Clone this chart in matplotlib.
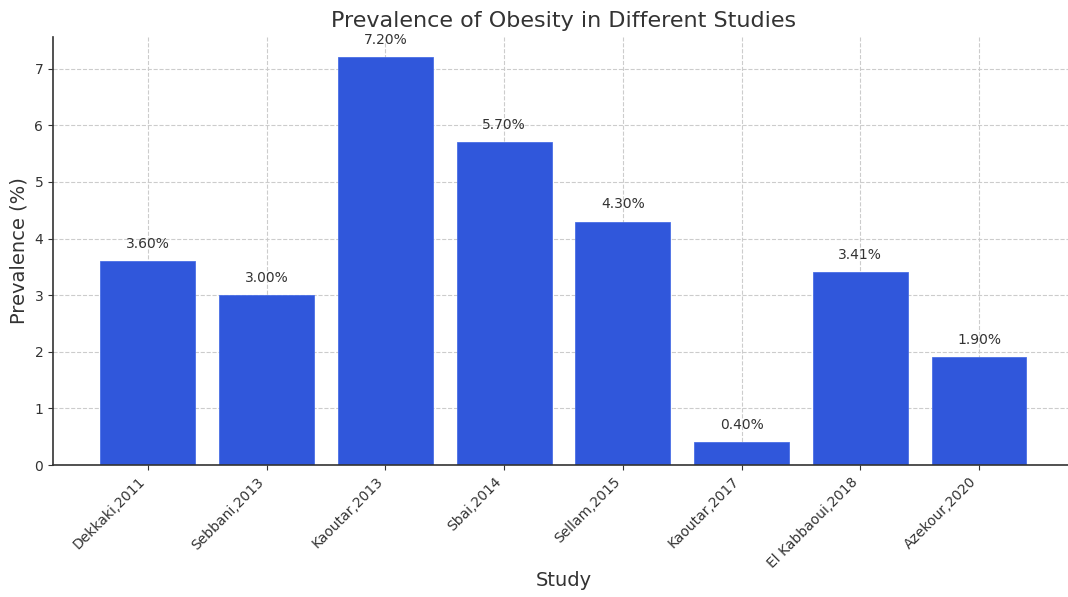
import matplotlib
matplotlib.use("Agg")
import matplotlib.pyplot as plt

studies = ["Dekkaki,2011", "Sebbani,2013", "Kaoutar,2013", "Sbai,2014",
           "Sellam,2015", "Kaoutar,2017", "El Kabbaoui,2018", "Azekour,2020"]
prevalence = [3.60, 3.00, 7.20, 5.70, 4.30, 0.40, 3.41, 1.90]

text_color = "#333333"
plt.rcParams["font.family"] = ["DejaVu Sans"]
plt.rcParams["text.color"] = text_color
plt.rcParams["axes.labelcolor"] = text_color
plt.rcParams["xtick.color"] = text_color
plt.rcParams["ytick.color"] = text_color

fig = plt.figure(figsize=(10.68, 5.97), dpi=100)
ax = fig.add_axes([0.0496, 0.2211, 0.956, 0.717])

x = list(range(len(studies)))
bars = ax.bar(x, prevalence, width=0.8, color="#3057db", edgecolor="#4a6fe6",
              linewidth=0.6, zorder=2)

for xi, v in zip(x, prevalence):
    ax.text(xi, v + 0.18, f"{v:.2f}%", ha="center", va="bottom",
            fontsize=10, color=text_color, zorder=3)

ax.set_xticks(x)
ax.set_xticklabels(studies, rotation=45, ha="right", fontsize=10)
ax.tick_params(axis="y", labelsize=10)
ax.set_ylim(0, 7.56)
ax.set_xlim(-0.8, 7.8)

ax.set_title("Prevalence of Obesity in Different Studies", fontsize=16,
             color=text_color, pad=7)
ax.set_xlabel("Study", fontsize=14, labelpad=0)
ax.set_ylabel("Prevalence (%)", fontsize=14)

ax.grid(True, linestyle="--", color="#cccccc", linewidth=0.8, zorder=0)
ax.set_axisbelow(True)
for side in ("top", "right"):
    ax.spines[side].set_visible(False)
for side in ("left", "bottom"):
    ax.spines[side].set_color(text_color)
    ax.spines[side].set_linewidth(1.2)

fig.savefig("out.png", dpi=100)
